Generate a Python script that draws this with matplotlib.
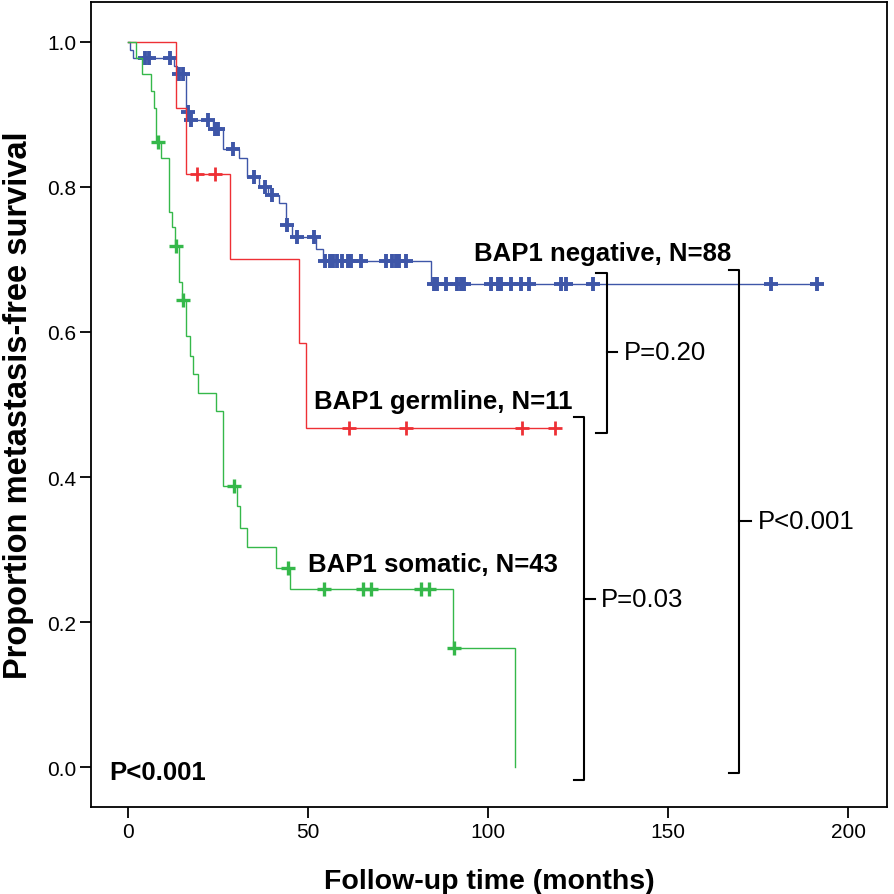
import numpy as np
import matplotlib
matplotlib.use("Agg")
import matplotlib.pyplot as plt

plt.rcParams['font.family'] = ['Liberation Sans', 'DejaVu Sans']

# ---- data ----
blue_times = [0.4, 1.4, 12.8, 13.5, 16.0, 17.0, 23.5, 26.2, 30.8, 33.1, 36.4, 38.9,
              41.9, 43.9, 45.6, 52.1, 54.0, 84.1]
blue_surv = [0.989, 0.977, 0.966, 0.955, 0.903, 0.892, 0.880, 0.852, 0.839, 0.813,
             0.800, 0.789, 0.777, 0.747, 0.731, 0.714, 0.698, 0.666]
blue_censor = [4.5, 5.8, 11.6, 14.2, 15.2, 16.5, 17.5, 22.0, 24.0, 25.0, 29.0, 35.0,
               38.0, 40.0, 44.2, 47.0, 51.7, 54.7, 56.0, 57.0, 58.1, 59.5, 60.9, 62.0,
               64.6, 71.6, 73.4, 74.5, 75.3, 77.1, 85.0, 85.9, 88.2, 91.4, 92.4, 93.3,
               100.7, 102.6, 103.5, 106.3, 109.1, 111.4, 120.2, 121.6, 129.0, 178.5, 191.4]
blue_end = 191.4

red_times = [13.2, 16.1, 28.2, 47.3, 49.3]
red_surv = [0.909, 0.818, 0.701, 0.584, 0.467]
red_censor = [19.2, 24.2, 61.4, 77.1, 109.4, 118.6]
red_end = 118.6

green_times = [2.1, 3.8, 6.3, 7.2, 7.8, 9.1, 11.2, 12.1, 13.0, 14.0, 14.9, 16.0, 17.1,
               18.1, 19.3, 24.4, 26.2, 30.2, 31.0, 33.1, 41.0, 45.0, 90.3, 107.5]
green_surv = [0.977, 0.955, 0.932, 0.909, 0.862, 0.839, 0.765, 0.744, 0.718, 0.669,
              0.644, 0.594, 0.567, 0.542, 0.516, 0.491, 0.387, 0.360, 0.330, 0.303,
              0.275, 0.246, 0.164, 0.0]
green_censor = [8.1, 13.2, 15.1, 29.4, 44.3, 54.4, 65.1, 67.4, 81.3, 83.6, 90.6]
green_end = 107.5

group_labels = ["BAP1 negative, N=88", "BAP1 germline, N=11", "BAP1 somatic, N=43"]
pvalues = ["P=0.20", "P=0.03", "P<0.001"]
overall_p = "P<0.001"

xticks = [0, 50, 100, 150, 200]
yticks = [0.0, 0.2, 0.4, 0.6, 0.8, 1.0]

BLUE = '#3E56A8'
RED = '#EE3035'
GREEN = '#35B84A'

fig = plt.figure(figsize=(8.95, 8.95), dpi=100)
ax = fig.add_axes([0.102, 0.097, 0.889, 0.900])


def step_xy(times, surv, end):
    xs = [0.0]
    ys = [1.0]
    for t, s in zip(times, surv):
        xs += [t, t]
        ys += [ys[-1], s]
    if end > xs[-1]:
        xs.append(end)
        ys.append(ys[-1])
    return np.array(xs), np.array(ys)


def surv_at(times, surv, t):
    idx = np.searchsorted(np.array(times), t, side='right') - 1
    return 1.0 if idx < 0 else surv[idx]


series = [
    (blue_times, blue_surv, blue_censor, blue_end, BLUE, 2.8),
    (red_times, red_surv, red_censor, red_end, RED, 2.0),
    (green_times, green_surv, green_censor, green_end, GREEN, 2.4),
]
for times, surv, cens, end, col, mew in series:
    xs, ys = step_xy(times, surv, end)
    ax.plot(xs, ys, color=col, lw=1.0, solid_joinstyle='miter')
    cy = [surv_at(times, surv, c) for c in cens]
    ax.plot(cens, cy, linestyle='none', marker='+', ms=10, mew=mew, color=col)

# group labels
lab_fs = 18.5
ax.text(96.1, 0.708, group_labels[0], fontsize=lab_fs, fontweight='bold', va='center', ha='left')
ax.text(51.7, 0.505, group_labels[1], fontsize=lab_fs, fontweight='bold', va='center', ha='left')
ax.text(49.8, 0.280, group_labels[2], fontsize=lab_fs, fontweight='bold', va='center', ha='left')
ax.text(-5.3, -0.007, overall_p, fontsize=lab_fs, fontweight='bold', va='center', ha='left')


# brackets
def bracket(x, xl, xr, ytop, ybot, ymid, xt, label):
    ax.plot([xl, x, x, xl], [ytop, ytop, ybot, ybot], color='black', lw=1.5,
            solid_joinstyle='round', clip_on=False)
    ax.plot([x, xr], [ymid, ymid], color='black', lw=1.5)
    ax.text(xt, ymid, label, fontsize=lab_fs, va='center', ha='left')


bracket(133.1, 130.0, 135.8, 0.681, 0.460, 0.572, 137.6, pvalues[0])
bracket(126.6, 123.7, 129.7, 0.482, -0.018, 0.232, 131.3, pvalues[1])
bracket(169.6, 166.8, 172.9, 0.685, -0.008, 0.339, 174.8, pvalues[2])

ax.set_xlim(-10.3, 210.8)
ax.set_ylim(-0.055, 1.055)
ax.set_xticks(xticks)
ax.set_xticklabels([str(v) for v in xticks])
ax.set_yticks(yticks)
ax.set_yticklabels([f"{v:.1f}" for v in yticks])
ax.tick_params(direction='out', length=8, width=1.3, labelsize=15, pad=3)
for sp in ax.spines.values():
    sp.set_linewidth(1.3)
ax.set_xlabel("Follow-up time (months)", fontsize=20.5, fontweight='bold', labelpad=19)
ax.set_ylabel("Proportion metastasis-free survival", fontsize=23.5, fontweight='bold', labelpad=9)

fig.savefig("out.png", dpi=100)
